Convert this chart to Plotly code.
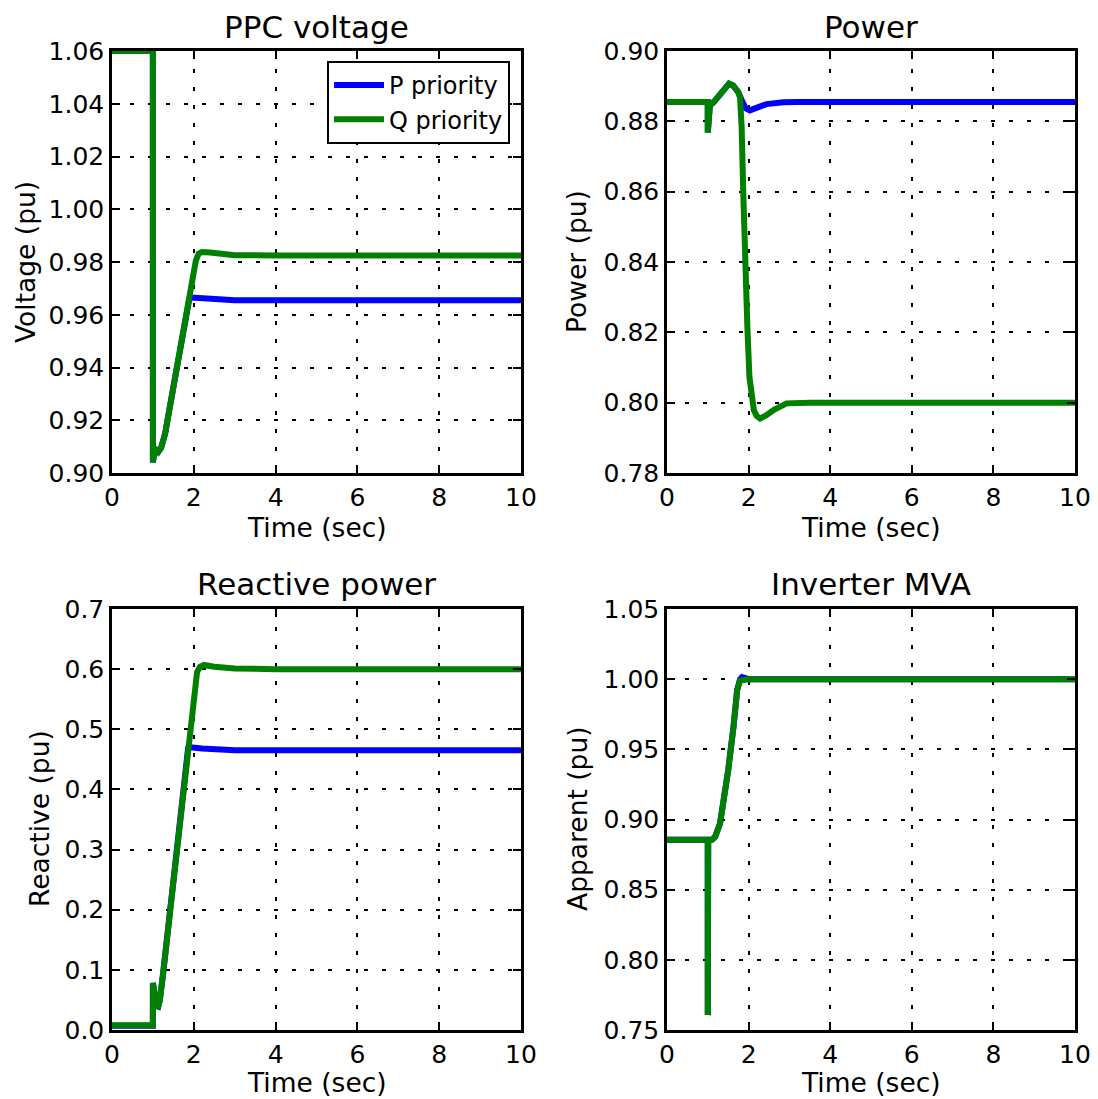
import plotly.graph_objects as go
from plotly.subplots import make_subplots

# PPC voltage (pu)
t_volt_q = [0, 0.999, 1.0, 1.04, 1.08, 1.13, 1.2, 1.3, 1.46, 1.6, 1.75, 1.89, 1.97, 2.05, 2.12, 2.2, 2.4, 2.7, 3.0, 4, 10]
volt_q = [1.06, 1.06, 0.904, 0.9085, 0.9088, 0.908, 0.9095, 0.915, 0.929, 0.941, 0.954, 0.967, 0.9745, 0.9805, 0.9832, 0.9838, 0.9836, 0.9829, 0.9826, 0.9825, 0.9825]
t_volt_p = [0, 0.999, 1.0, 1.04, 1.08, 1.13, 1.2, 1.3, 1.46, 1.6, 1.75, 1.89, 1.95, 2.1, 2.5, 3.0, 10]
volt_p = [1.06, 1.06, 0.904, 0.9085, 0.9088, 0.908, 0.9095, 0.915, 0.929, 0.941, 0.954, 0.966, 0.9665, 0.9663, 0.9658, 0.9655, 0.9655]

# Power (pu)
t_pow_p = [0, 0.999, 1.0, 1.02, 1.05, 1.15, 1.3, 1.45, 1.52, 1.62, 1.75, 1.85, 1.93, 2.03, 2.2, 2.44, 2.85, 3.2, 10]
pow_p = [0.8855, 0.8855, 0.8768, 0.8835, 0.8845, 0.8855, 0.8878, 0.8900, 0.8907, 0.8902, 0.8882, 0.8855, 0.8837, 0.8831, 0.8838, 0.8849, 0.8854, 0.8855, 0.8855]
t_pow_q = [0, 0.999, 1.0, 1.02, 1.05, 1.15, 1.3, 1.45, 1.52, 1.62, 1.75, 1.79, 1.83, 1.87, 1.91, 1.97, 2.02, 2.07, 2.13, 2.2, 2.28, 2.42, 2.61, 2.93, 3.5, 10]
pow_q = [0.8855, 0.8855, 0.8768, 0.8835, 0.8845, 0.8855, 0.8878, 0.8900, 0.8907, 0.8902, 0.8882, 0.8868, 0.8782, 0.8593, 0.8404, 0.8215, 0.8073, 0.8010, 0.7978, 0.7962, 0.7955, 0.7963, 0.7979, 0.7998, 0.8, 0.8]

# Reactive power (pu)
t_reac_q = [0, 0.999, 1.0, 1.04, 1.09, 1.13, 1.17, 1.25, 1.43, 1.61, 1.74, 1.87, 2.0, 2.08, 2.15, 2.25, 2.5, 3.0, 4, 10]
reac_q = [0.008, 0.008, 0.078, 0.052, 0.040, 0.039, 0.050, 0.094, 0.205, 0.316, 0.399, 0.475, 0.56, 0.595, 0.604, 0.607, 0.604, 0.601, 0.600, 0.600]
t_reac_p = [0, 0.999, 1.0, 1.04, 1.09, 1.13, 1.17, 1.25, 1.43, 1.61, 1.74, 1.86, 1.92, 2.2, 3.0, 10]
reac_p = [0.007, 0.007, 0.078, 0.052, 0.040, 0.039, 0.050, 0.094, 0.205, 0.316, 0.399, 0.468, 0.470, 0.468, 0.465, 0.465]

# Inverter MVA (pu)
t_mva_p = [0, 0.999, 1.0, 1.01, 1.1, 1.18, 1.3, 1.38, 1.5, 1.63, 1.72, 1.79, 1.84, 1.9, 2.0, 10]
mva_p = [0.8855, 0.8855, 0.7606, 0.8855, 0.8855, 0.8877, 0.8972, 0.9115, 0.9352, 0.9661, 0.9923, 1.0, 1.0015, 1.001, 1.0, 1.0]
t_mva_q = [0, 0.999, 1.0, 1.01, 1.1, 1.18, 1.3, 1.38, 1.5, 1.63, 1.72, 1.79, 1.85, 2.0, 10]
mva_q = [0.8855, 0.8855, 0.7606, 0.8855, 0.8855, 0.8877, 0.8972, 0.9115, 0.9352, 0.9661, 0.9923, 0.999, 0.9995, 1.0, 1.0]

titles = ['PPC voltage', 'Power', 'Reactive power', 'Inverter MVA']
ylabels = ['Voltage (pu)', 'Power (pu)', 'Reactive (pu)', 'Apparent (pu)']

BLUE = '#0000ff'
GREEN = '#008000'
FONT = 'DejaVu Sans'

# page body has an 8px margin, so the figure is drawn 8px smaller and positions are shifted
OFF = 8
W, H = 1098 - OFF, 1099 - OFF


def px_x(p):
    return (p - OFF) / W


def px_y(p):
    return 1 - (p - OFF) / H


fig = make_subplots(rows=2, cols=2)

panels = [
    (t_volt_p, volt_p, t_volt_q, volt_q, 1, 1),
    (t_pow_p, pow_p, t_pow_q, pow_q, 1, 2),
    (t_reac_p, reac_p, t_reac_q, reac_q, 2, 1),
    (t_mva_p, mva_p, t_mva_q, mva_q, 2, 2),
]
for i, (tp, yp, tq, yq, r, c) in enumerate(panels):
    fig.add_trace(go.Scatter(x=tp, y=yp, mode='lines', name='P priority',
                             line=dict(color=BLUE, width=6), showlegend=(i == 0)), row=r, col=c)
    fig.add_trace(go.Scatter(x=tq, y=yq, mode='lines', name='Q priority',
                             line=dict(color=GREEN, width=6), showlegend=(i == 0)), row=r, col=c)

xdom = [[px_x(112), px_x(521)], [px_x(667), px_x(1075)]]
ydom = [[px_y(473), px_y(51)], [px_y(1030), px_y(609)]]

common = dict(showline=True, linecolor='black', linewidth=2.5, mirror='ticks',
              ticks='inside', ticklen=8, tickwidth=2, tickcolor='black',
              showgrid=True, gridcolor='black', gridwidth=2, griddash='4px,14px',
              zeroline=False, automargin=False,
              tickfont=dict(family=FONT, size=25, color='black'),
              ticklabelstandoff=0)

yranges = [(0.90, 1.06, 0.02, '.2f'), (0.78, 0.90, 0.02, '.2f'), (0.0, 0.7, 0.1, '.1f'), (0.75, 1.05, 0.05, '.2f')]
for i in range(4):
    r, c = i // 2 + 1, i % 2 + 1
    fig.update_xaxes(common, domain=xdom[c - 1], range=[0, 10], tick0=0, dtick=2, row=r, col=c)
    lo, hi, dt, fmt = yranges[i]
    fig.update_yaxes(common, domain=ydom[r - 1], range=[lo, hi], tick0=lo, dtick=dt, tickformat=fmt, row=r, col=c)

# titles and axis labels
title_x = [px_x((112 + 521) / 2), px_x((667 + 1075) / 2)]
title_y = [px_y(27), px_y(584)]
xlabel_y = [px_y(527), px_y(1082)]
ylabel_x = [px_x(26), px_x(577), px_x(39), px_x(577)]
ylabel_y = [px_y(262), px_y(819)]
for i in range(4):
    r, c = i // 2, i % 2
    fig.add_annotation(text=titles[i], x=title_x[c], y=title_y[r], xref='paper', yref='paper',
                       showarrow=False, xanchor='center', yanchor='middle',
                       font=dict(family=FONT, size=31, color='black'))
    fig.add_annotation(text='Time (sec)', x=title_x[c], y=xlabel_y[r], xref='paper', yref='paper',
                       showarrow=False, xanchor='center', yanchor='middle',
                       font=dict(family=FONT, size=26.5, color='black'))
    fig.add_annotation(text=ylabels[i], x=ylabel_x[i], y=ylabel_y[r], xref='paper', yref='paper',
                       showarrow=False, xanchor='center', yanchor='middle', textangle=-90,
                       font=dict(family=FONT, size=26.5, color='black'))

fig.update_layout(
    width=W, height=H,
    margin=dict(l=0, r=0, t=0, b=0),
    paper_bgcolor='white', plot_bgcolor='white',
    font=dict(family=FONT, color='black'),
    legend=dict(x=px_x(510), xanchor='right', y=px_y(61), yanchor='top',
                bordercolor='black', borderwidth=2, bgcolor='white',
                font=dict(family=FONT, size=24, color='black'), itemwidth=50,
                tracegroupgap=0),
)

fig.write_html("out.html")
